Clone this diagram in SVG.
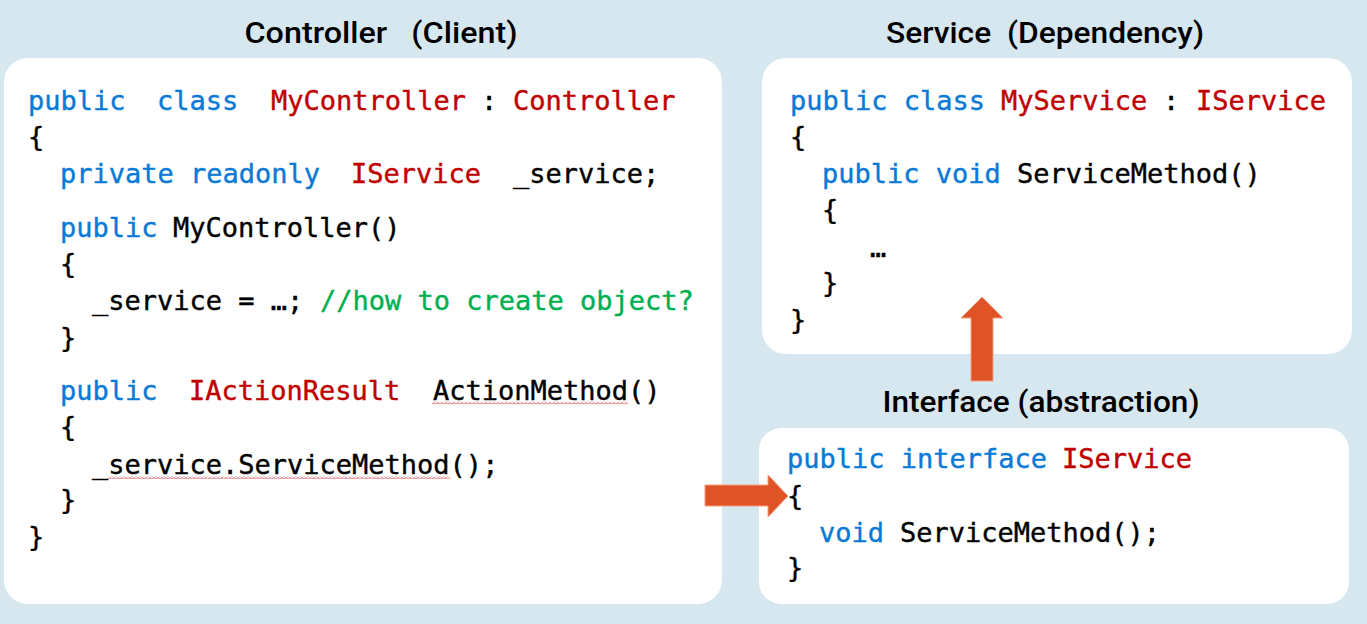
<svg xmlns="http://www.w3.org/2000/svg" width="1367" height="624" viewBox="0 0 1367 624">
<style>
.box{fill:#ffffff}
.title{font-family:Roboto,"Noto Sans","Liberation Sans",sans-serif;font-size:30px;font-weight:500;fill:#000}
.code{font-family:"DejaVu Sans Mono","Liberation Mono",monospace;font-size:27px;fill:#000;stroke:#000;stroke-width:0.4}
.kw{fill:#0A7AD6;stroke:#0A7AD6}
.ty{fill:#C00000;stroke:#C00000}
.cm{fill:#00B050;stroke:#00B050}
.arrow{fill:#E05327;stroke:#F3A07F;stroke-width:1}
</style>
<defs>
<pattern id="squiggle" patternUnits="userSpaceOnUse" x="0" y="0" width="4" height="3">
<polyline points="0,2.5 2,0.5 4,2.5" fill="none" stroke="#E03030" stroke-width="0.9"/>
</pattern>
</defs>
<rect x="0" y="0" width="1367" height="624" fill="#D6E7F0"/>

<g id="controller">
<text class="title" x="381" y="43" text-anchor="middle" textLength="273" lengthAdjust="spacingAndGlyphs" xml:space="preserve">Controller   (Client)</text>
<rect class="box" x="4" y="58" width="718" height="546" rx="24"/>
<text class="code" y="110"><tspan class="kw" x="28">public</tspan><tspan class="kw" x="157">class</tspan><tspan class="ty" x="271">MyController</tspan><tspan x="481">:</tspan><tspan class="ty" x="513">Controller</tspan></text>
<text class="code" x="28" y="146">{</text>
<text class="code" y="183"><tspan class="kw" x="60">private readonly</tspan><tspan class="ty" x="351">IService</tspan><tspan x="513">_service;</tspan></text>
<text class="code" y="237"><tspan class="kw" x="60">public</tspan><tspan x="173">MyController()</tspan></text>
<text class="code" x="60" y="273">{</text>
<text class="code" y="310"><tspan x="92">_service = …;</tspan><tspan class="cm" x="320">//how to create object?</tspan></text>
<text class="code" x="60" y="347">}</text>
<text class="code" y="400"><tspan class="kw" x="60">public</tspan><tspan class="ty" x="189">IActionResult</tspan><tspan x="433">ActionMethod()</tspan></text>
<rect x="432" y="401.5" width="196" height="3" fill="url(#squiggle)"/>
<text class="code" x="60" y="436">{</text>
<text class="code" x="92" y="474">_service.ServiceMethod();</text>
<rect x="108" y="476" width="342" height="3" fill="url(#squiggle)"/>
<text class="code" x="60" y="509">}</text>
<text class="code" x="28" y="546">}</text>
</g>

<g id="service">
<text class="title" x="1045" y="43" text-anchor="middle" textLength="318" lengthAdjust="spacingAndGlyphs" xml:space="preserve">Service  (Dependency)</text>
<rect class="box" x="762" y="58" width="590" height="296" rx="24"/>
<text class="code" y="110"><tspan class="kw" x="790">public class</tspan><tspan class="ty" x="1001">MyService</tspan><tspan x="1163">:</tspan><tspan class="ty" x="1196">IService</tspan></text>
<text class="code" x="790" y="146">{</text>
<text class="code" y="183"><tspan class="kw" x="822">public void</tspan><tspan x="1017">ServiceMethod()</tspan></text>
<text class="code" x="822" y="219">{</text>
<text class="code" x="870" y="257">…</text>
<text class="code" x="822" y="292">}</text>
<text class="code" x="790" y="329">}</text>
</g>

<g id="interface">
<text class="title" x="1041" y="412" text-anchor="middle" textLength="317" lengthAdjust="spacingAndGlyphs">Interface (abstraction)</text>
<rect class="box" x="759" y="428" width="590" height="176" rx="22"/>
<text class="code" y="468"><tspan class="kw" x="787">public interface</tspan><tspan class="ty" x="1062">IService</tspan></text>
<text class="code" x="787" y="505">{</text>
<text class="code" y="542"><tspan class="kw" x="819">void</tspan><tspan x="900">ServiceMethod();</tspan></text>
<text class="code" x="787" y="577">}</text>
</g>

<g id="connectors">
<polygon class="arrow" points="705,485 768,485 768,475 788,496 768,517 768,506 705,506"/>
<polygon class="arrow" points="971,381 971,318 961,318 982,297 1003,318 993,318 993,381"/>
</g>
</svg>
